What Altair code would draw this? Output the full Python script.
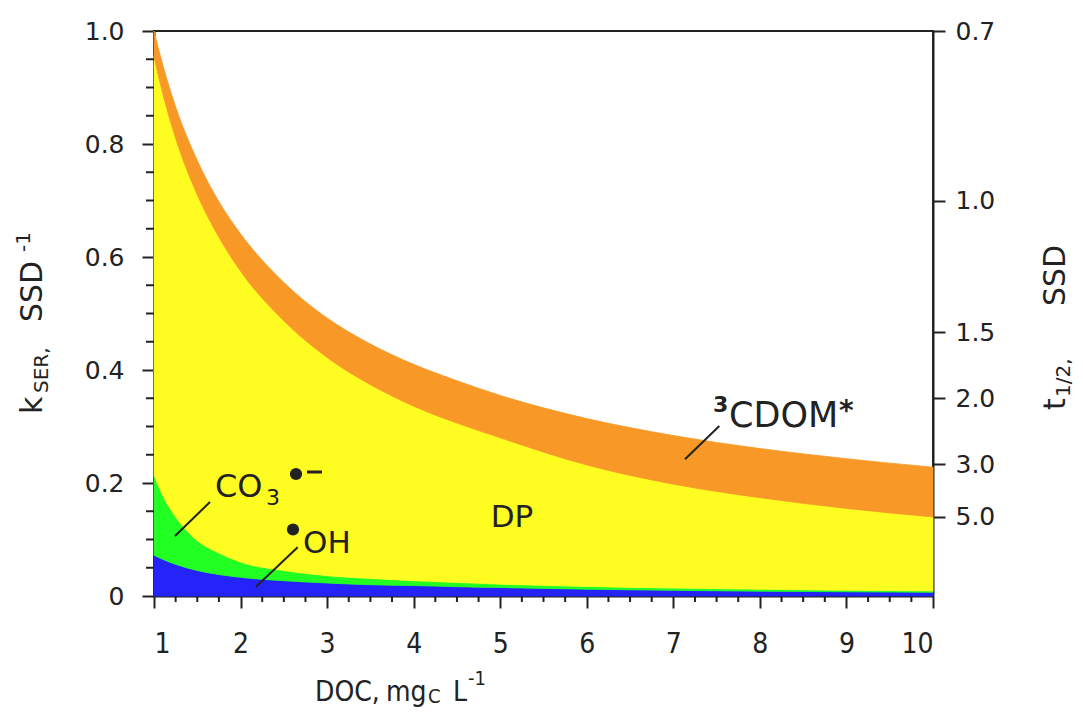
import altair as alt
import pandas as pd

# ---------------- data ----------------
doc = [1, 1.1, 1.25, 1.5, 1.75, 2, 2.5, 3, 3.5, 4, 4.5, 5, 6, 7, 8, 9, 10]
# cumulative upper boundary of each band (k_SER, SSD^-1)
oh_top = [0.072, 0.065, 0.056, 0.045, 0.038, 0.033, 0.027, 0.023, 0.020, 0.0185,
          0.0165, 0.015, 0.012, 0.010, 0.0085, 0.0075, 0.0065]
co3_top = [0.214, 0.178, 0.140, 0.098, 0.076, 0.060, 0.045, 0.036, 0.031, 0.027,
           0.024, 0.021, 0.017, 0.014, 0.012, 0.010, 0.009]
dp_top = [0.955, 0.890, 0.810, 0.710, 0.635, 0.575, 0.487, 0.422, 0.374, 0.336,
          0.306, 0.280, 0.232, 0.198, 0.174, 0.155, 0.140]
cdom_top = [1.0, 0.941, 0.866, 0.771, 0.698, 0.641, 0.555, 0.492, 0.446, 0.410,
            0.381, 0.355, 0.314, 0.284, 0.261, 0.243, 0.228]

species = ["OH", "CO3", "DP", "CDOM"]
colors = ["#2424F8", "#22FF22", "#FFFC22", "#F89826"]

x_ticks = [1, 2, 3, 4, 5, 6, 7, 8, 9, 10]
y_ticks = [0, 0.2, 0.4, 0.6, 0.8, 1.0]
t_half_ticks = [0.7, 1.0, 1.5, 2.0, 3.0, 5.0]
K_T = 0.7  # k * t1/2 used for the right-hand axis
x_minor = [1 + 0.25 * i for i in range(37) if i % 4 != 0]
y_minor = [round(0.05 * i, 2) for i in range(21) if i % 4 != 0]

# ---------------- layout / style ----------------
W, H = 779, 565
L0, T0 = 154, 31          # page position of plot origin
INK = "#222222"
WIDE = "DejaVu Sans"
NARROW = "Liberation Sans Narrow, DejaVu Sans Condensed, sans-serif"

tops = [oh_top, co3_top, dp_top, cdom_top]
rows = []
for i, sp in enumerate(species):
    for j, d in enumerate(doc):
        lo = 0.0 if i == 0 else tops[i - 1][j]
        rows.append({"doc": d, "species": sp, "lo": lo, "hi": tops[i][j]})
bands = pd.DataFrame(rows)
wide = pd.DataFrame({"doc": doc, "cdom": cdom_top})

xs = alt.Scale(domain=[1, 10], nice=False, zero=False)
ys = alt.Scale(domain=[0, 1], nice=False, zero=True)
cs = alt.Scale(domain=species, range=colors)

area = alt.Chart(bands).mark_area(interpolate="monotone", strokeWidth=0.8).encode(
    x=alt.X("doc:Q", scale=xs, axis=alt.Axis(
        orient="bottom", values=x_ticks, format="d", title=None, tickSize=12, labelPadding=22,
        labelFont=NARROW, labelFontSize=28, labelColor=INK)),
    y=alt.Y("hi:Q", scale=ys, axis=alt.Axis(
        orient="left", values=y_ticks, title=None, tickSize=12, labelPadding=18,
        labelExpr="datum.value == 0 ? '0' : format(datum.value, '.1f')",
        labelFont=WIDE, labelFontSize=25, labelColor=INK)),
    y2="lo:Q",
    color=alt.Color("species:N", scale=cs, legend=None),
    stroke=alt.Stroke("species:N", scale=cs, legend=None),
)

xminor = alt.Chart(pd.DataFrame({"v": x_minor})).mark_rule(color=INK, strokeWidth=2).encode(
    x=alt.X("v:Q", scale=xs, axis=None), y=alt.value(H), y2=alt.value(H + 6))
yminor = alt.Chart(pd.DataFrame({"v": y_minor})).mark_rule(color=INK, strokeWidth=2).encode(
    y=alt.Y("v:Q", scale=ys, axis=None), x=alt.value(-8), x2=alt.value(0))

right = alt.Chart(wide).mark_line(opacity=0).encode(
    x=alt.X("doc:Q", scale=xs, axis=None),
    y=alt.Y("cdom:Q", scale=ys, axis=alt.Axis(
        orient="right", values=[K_T / t for t in t_half_ticks], title=None,
        tickSize=12, labelPadding=10,
        labelExpr=f"format({K_T} / datum.value, '.1f')",
        labelFont=WIDE, labelFontSize=25, labelColor=INK)),
)

one = pd.DataFrame({"a": [0]})


def txt(s, px, py, size, angle=0, align="left", baseline="alphabetic", font=WIDE, weight="normal"):
    return alt.Chart(one).mark_text(
        text=s, fontSize=size, angle=angle, align=align, baseline=baseline,
        font=font, fontWeight=weight, color=INK,
    ).encode(x=alt.value(px - L0), y=alt.value(py - T0))


def seg(x1, y1, x2, y2, w=2):
    return alt.Chart(one).mark_rule(color=INK, strokeWidth=w).encode(
        x=alt.value(x1 - L0), y=alt.value(y1 - T0), x2=alt.value(x2 - L0), y2=alt.value(y2 - T0))


def dot(px, py):
    return alt.Chart(one).mark_circle(color=INK, opacity=1, size=150).encode(
        x=alt.value(px - L0), y=alt.value(py - T0))


annots = [
    # in-plot labels
    txt("DP", 512, 518, 31, align="center", baseline="middle"),
    txt("CO", 215, 497, 32),
    txt("3", 266, 505, 22),
    dot(296, 474),
    seg(307, 472, 322, 472, 3),
    seg(210, 502, 175, 536),
    dot(293, 529.5),
    txt("OH", 303, 553, 31),
    seg(297.7, 547.3, 256, 586.7),
    txt("3", 713, 412, 22, weight="bold"),
    txt("CDOM", 729, 427, 35),
    txt("*", 839, 420, 28, weight="bold"),
    seg(719.3, 426, 685, 459.3),
    # left axis title
    txt("k", 42, 414, 30, angle=270),
    txt("SER,", 48, 393, 20, angle=270),
    txt("SSD", 42, 322, 30, angle=270),
    txt("-1", 30, 252, 20, angle=270),
    # right axis title
    txt("t", 1065, 410, 30, angle=270),
    txt("1/2,", 1070, 397, 20, angle=270),
    txt("SSD", 1065, 306, 30, angle=270),
    # bottom axis title
    txt("DOC,", 315, 701, 28, font=NARROW),
    txt("mg", 386, 701, 28, font=NARROW),
    txt("C", 428, 703, 20, font=NARROW),
    txt("L", 453, 701, 28, font=NARROW),
    txt("-1", 468, 685, 20, font=NARROW),
]

chart = alt.layer(area, xminor, yminor, right, *annots).resolve_axis(
    x="independent", y="independent"
).properties(
    width=W, height=H,
    autosize=alt.AutoSizeParams(type="none"),
    padding={"left": L0 - 8, "top": T0 - 8, "right": 1067 - (L0 - 8) - W, "bottom": 700 - (T0 - 8) - H},
).configure_axis(
    domainColor=INK, domainWidth=2, tickColor=INK, tickWidth=2, grid=False,
).configure_view(stroke=INK, strokeWidth=2)

chart.save("out.html", embed_options={"renderer": "svg", "actions": False})
